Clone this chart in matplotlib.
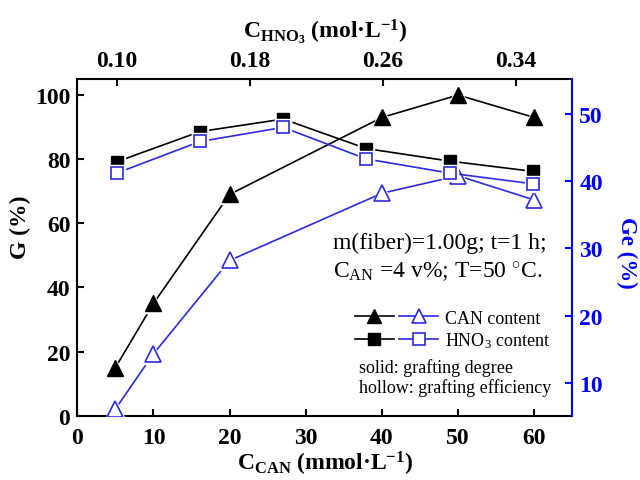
import matplotlib
matplotlib.use('Agg')
import matplotlib.pyplot as plt
from matplotlib.lines import Line2D
from matplotlib.legend_handler import HandlerTuple

plt.rcParams['font.family'] = 'Liberation Serif'
plt.rcParams['mathtext.fontset'] = 'custom'
plt.rcParams['mathtext.rm'] = 'Liberation Serif'
plt.rcParams['mathtext.it'] = 'Liberation Serif:italic'
plt.rcParams['mathtext.bf'] = 'Liberation Serif:bold'

# CAN series (bottom axis, mmol/L)
c_can = [5, 10, 20, 40, 50, 60]
g_can = [15, 35, 69, 93, 100, 93]
ge_can = [6.1, 14.3, 28.2, 38.2, 40.8, 37.2]

# HNO3 series (top axis, mol/L)
c_hno3 = [0.10, 0.15, 0.20, 0.25, 0.30, 0.35]
g_hno3 = [79.2, 88.6, 92.5, 83.3, 79.4, 76.2]
ge_hno3 = [41.2, 45.9, 48.0, 43.3, 41.2, 39.6]

BLUE = '#0000ff'
DBLUE = '#2a2ae0'
LW = 1.2

fig = plt.figure(figsize=(6.4, 4.81), dpi=100)
ax = fig.add_axes([0.1208, 0.1337, 0.7734, 0.7000])
ax_top = ax.twiny()      # HNO3 conc, left y
ax_r = ax.twinx()        # CAN conc, right y
ax_tr = ax_r.twiny()     # HNO3 conc, right y


def draw(a, x, y, marker, ms, color, hollow=False):
    # line, small white halo (gap round the marker), marker
    a.plot(x, y, '-', color=color, lw=LW, zorder=1)
    a.plot(x, y, linestyle='none', marker=marker, ms=ms + 3, color='white',
           mec='white', zorder=2)
    if hollow:
        a.plot(x, y, linestyle='none', marker=marker, ms=ms, mfc='white',
               mec=color, mew=LW, zorder=3)
    else:
        a.plot(x, y, linestyle='none', marker=marker, ms=ms, color=color,
               zorder=3)


draw(ax, c_can, g_can, '^', 11, 'black')
draw(ax_top, c_hno3, g_hno3, 's', 9, 'black')
draw(ax_r, c_can, ge_can, '^', 11, DBLUE, hollow=True)
draw(ax_tr, c_hno3, ge_hno3, 's', 9, DBLUE, hollow=True)

# limits and ticks
ax.set_xlim(0, 65)
ax.set_ylim(0, 105)
ax.set_xticks(range(0, 61, 10))
ax.set_yticks(range(0, 101, 20))
ax_r.set_ylim(5.1, 55.2)
ax_r.set_yticks(range(10, 51, 10))
for a in (ax_top, ax_tr):
    a.set_xlim(0.0762, 0.3738)
ax_top.set_xticks([0.10, 0.18, 0.26, 0.34])
ax_top.set_xticklabels(['0.10', '0.18', '0.26', '0.34'])
ax_tr.xaxis.set_visible(False)

ax.tick_params(direction='in', length=5, width=1.5, labelsize=17,
               right=False, top=False)
ax.tick_params(axis='x', pad=8)
ax.tick_params(axis='y', pad=5)
ax_top.tick_params(direction='in', length=5, width=1.5, labelsize=17, pad=6)
ax_r.tick_params(axis='y', direction='in', length=5, width=1.5, labelsize=17,
                 colors=BLUE, pad=5)
for lab in (ax.get_xticklabels() + ax.get_yticklabels()
            + ax_top.get_xticklabels() + ax_r.get_yticklabels()):
    lab.set_fontweight('bold')

# spines
for s in ax.spines.values():
    s.set_linewidth(1.5)
ax.spines['right'].set_visible(False)
for a in (ax_top, ax_tr):
    for s in a.spines.values():
        s.set_visible(False)
for k, s in ax_r.spines.items():
    s.set_visible(k == 'right')
ax_r.spines['right'].set_color(BLUE)
ax_r.spines['right'].set_linewidth(1.5)

# axis labels
ax.set_xlabel(r'C$_{\mathbf{CAN}}$ (mmol·L$^{\mathbf{-1}}$)', fontsize=17,
              fontweight='bold', labelpad=1)
ax.set_ylabel('G (%)', fontsize=17, fontweight='bold')
ax.yaxis.set_label_coords(-0.094, 0.563)
ax_top.set_xlabel(r'C$_{\mathbf{HNO_3}}$ (mol·L$^{\mathbf{-1}}$)',
                  fontsize=17, fontweight='bold', labelpad=9)
ax_r.set_ylabel('Ge (%)', fontsize=16.5, fontweight='bold', color=BLUE,
                rotation=270)
ax_r.yaxis.set_label_coords(1.1095, 0.486)
ax_r.yaxis.label.set_va('center')
ax_r.yaxis.label.set_ha('center')

# conditions text
ax_tr.text(0.517, 0.515, 'm(fiber)=1.00g; t=1 h;', transform=ax_tr.transAxes,
           fontsize=17, va='center', ha='left')
ax_tr.text(0.517, 0.43, r'C$_{\mathrm{AN}}$ =4 v%; T=50 $^{\circ}$C.',
           transform=ax_tr.transAxes, fontsize=17, va='center', ha='left')

# legend
h_can = (Line2D([], [], color='black', marker='^', ms=10, lw=LW),
         Line2D([], [], color=DBLUE, marker='^', ms=10, mfc='white',
                mec=DBLUE, mew=LW, lw=LW))
h_hno3 = (Line2D([], [], color='black', marker='s', ms=8, lw=LW),
          Line2D([], [], color=DBLUE, marker='s', ms=8, mfc='white',
                 mec=DBLUE, mew=LW, lw=LW))
leg = ax_tr.legend([h_can, h_hno3], ['CAN content', r'HNO$_3$ content'],
                   handler_map={tuple: HandlerTuple(ndivide=None, pad=0.3)},
                   loc='upper left', bbox_to_anchor=(0.561, 0.315),
                   frameon=False, borderpad=0, borderaxespad=0,
                   handlelength=4.6, handletextpad=0.4, labelspacing=0.2,
                   prop={'family': 'Liberation Serif', 'size': 13})

ax_tr.text(0.57, 0.145, 'solid: grafting degree', transform=ax_tr.transAxes,
           fontsize=13, va='center', ha='left')
ax_tr.text(0.57, 0.085, 'hollow: grafting efficiency',
           transform=ax_tr.transAxes, fontsize=13, va='center', ha='left')

plt.savefig('out.png', dpi=100)
plt.close()
